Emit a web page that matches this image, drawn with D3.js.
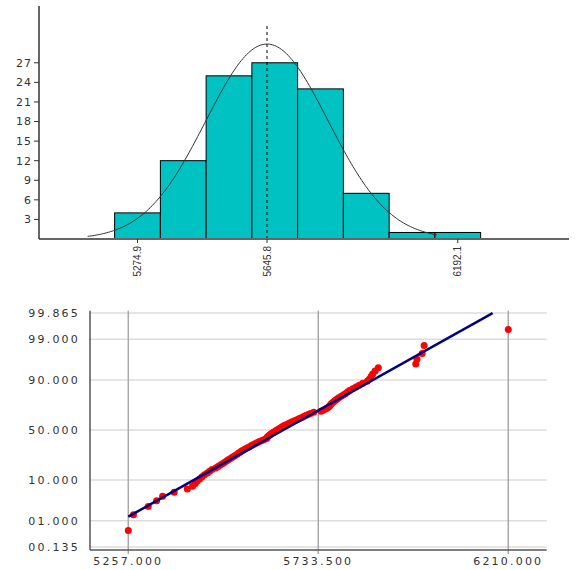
<!DOCTYPE html>
<html>
<head>
<meta charset="utf-8">
<script src="https://cdn.jsdelivr.net/npm/d3@7"></script>
<style>
  body { margin: 0; background: #fff; }
  svg { display: block; }
  text { font-family: "DejaVu Sans", Verdana, sans-serif; fill: #333; }
</style>
</head>
<body>
<svg width="579" height="570"></svg>
<script>
// histogram: counts per bin, bins are centred on firstBinCenter + i*binWidth
var histCounts = [4, 12, 25, 27, 23, 7, 1, 1];
var firstBinCenter = 5274.9;
var binWidth = 131.03;
var histTicks = [5274.9, 5645.8, 6192.1];
var histYTicks = [3, 6, 9, 12, 15, 18, 21, 24, 27];

// fitted normal
var mean = 5645.8;
var sd = 175;
var curveFrom = 5132, curveTo = 6135;

// sorted sample
var sample = [
  5257, 5270, 5307, 5328, 5343, 5372, 5405, 5418, 5425, 5430,
  5436, 5442, 5448, 5455, 5461, 5467, 5476, 5482, 5488, 5494,
  5499, 5504, 5509, 5514, 5519, 5524, 5529, 5533, 5537, 5541,
  5546, 5551, 5556, 5561, 5566, 5571, 5576, 5581, 5586, 5592,
  5598, 5604, 5605, 5607, 5610, 5613, 5616, 5620, 5624, 5628,
  5632, 5636, 5640, 5644, 5648, 5653, 5658, 5663, 5668, 5674,
  5680, 5686, 5692, 5697, 5702, 5708, 5714, 5722, 5740, 5746,
  5752, 5757, 5760, 5763, 5765, 5768, 5772, 5776, 5780, 5784,
  5790, 5796, 5802, 5807, 5812, 5820, 5828, 5836, 5845, 5856,
  5862, 5866, 5870, 5876, 5884, 5978, 5981, 5994, 5999, 6210
];
var probXTicks = [5257, 5733.5, 6210];
var probYTicks = [0.135, 1, 10, 50, 90, 99, 99.865];
var probYLabels = ["00.135", "01.000", "10.000", "50.000", "90.000", "99.000", "99.865"];

var svg = d3.select("svg");

// inverse normal cdf (Acklam)
function qnorm(p) {
  var a = [-39.6968302866538, 220.946098424521, -275.928510446969, 138.357751867269, -30.6647980661472, 2.50662827745924];
  var b = [-54.4760987982241, 161.585836858041, -155.698979859887, 66.8013118877197, -13.2806815528857];
  var c = [-0.00778489400243029, -0.322396458041136, -2.40075827716184, -2.54973253934373, 4.37466414146497, 2.93816398269878];
  var d = [0.00778469570904146, 0.32246712907004, 2.445134137143, 3.75440866190742];
  var q, r;
  if (p < 0.02425) {
    q = Math.sqrt(-2 * Math.log(p));
    return (((((c[0]*q+c[1])*q+c[2])*q+c[3])*q+c[4])*q+c[5]) / ((((d[0]*q+d[1])*q+d[2])*q+d[3])*q+1);
  }
  if (p > 1 - 0.02425) {
    q = Math.sqrt(-2 * Math.log(1 - p));
    return -(((((c[0]*q+c[1])*q+c[2])*q+c[3])*q+c[4])*q+c[5]) / ((((d[0]*q+d[1])*q+d[2])*q+d[3])*q+1);
  }
  q = p - 0.5; r = q * q;
  return (((((a[0]*r+a[1])*r+a[2])*r+a[3])*r+a[4])*r+a[5])*q / (((((b[0]*r+b[1])*r+b[2])*r+b[3])*r+b[4])*r+1);
}

// ---------- histogram ----------
var hx = d3.scaleLinear().domain([4992.8, 6510.7]).range([39, 569]);
var hy = d3.scaleLinear().domain([0, 35.7]).range([239, 6]);
var n = d3.sum(histCounts);

var bins = histCounts.map(function(c, i) {
  var mid = firstBinCenter + i * binWidth;
  return { lo: mid - binWidth / 2, hi: mid + binWidth / 2, count: c };
});

var histG = svg.append("g");

histG.selectAll("rect.bar")
  .data(bins)
  .enter().append("rect")
  .attr("class", "bar")
  .attr("x", function(d) { return hx(d.lo); })
  .attr("y", function(d) { return hy(d.count); })
  .attr("width", function(d) { return hx(d.hi) - hx(d.lo); })
  .attr("height", function(d) { return hy(0) - hy(d.count); })
  .attr("fill", "#00c2c2")
  .attr("stroke", "#000")
  .attr("stroke-width", 1);

// normal curve scaled to counts
var curvePts = d3.range(curveFrom, curveTo + 1, 5).map(function(v) {
  var z = (v - mean) / sd;
  return [v, n * binWidth * Math.exp(-z * z / 2) / (sd * Math.sqrt(2 * Math.PI))];
});
histG.append("path")
  .datum(curvePts)
  .attr("fill", "none")
  .attr("stroke", "#333")
  .attr("stroke-width", 1)
  .attr("d", d3.line().x(function(d) { return hx(d[0]); }).y(function(d) { return hy(d[1]); }));

// mean line
histG.append("line")
  .attr("x1", hx(mean)).attr("x2", hx(mean))
  .attr("y1", 26).attr("y2", hy(0))
  .attr("stroke", "#000")
  .attr("stroke-dasharray", "3 3");

// axes
histG.append("line")
  .attr("x1", 39).attr("x2", 569).attr("y1", hy(0)).attr("y2", hy(0))
  .attr("stroke", "#666").attr("stroke-width", 2);
histG.append("line")
  .attr("x1", 39).attr("x2", 39).attr("y1", 6).attr("y2", hy(0))
  .attr("stroke", "#333").attr("stroke-width", 1.5);

var hyTick = histG.selectAll("g.yt").data(histYTicks).enter().append("g")
  .attr("transform", function(d) { return "translate(0," + hy(d) + ")"; });
hyTick.append("line").attr("x1", 34).attr("x2", 39).attr("stroke", "#333");
hyTick.append("text")
  .attr("x", 32).attr("dy", "0.36em")
  .attr("text-anchor", "end")
  .style("font-size", "11px")
  .style("letter-spacing", "1px")
  .text(function(d) { return d; });

var hxTick = histG.selectAll("g.xt").data(histTicks).enter().append("g")
  .attr("transform", function(d) { return "translate(" + hx(d) + "," + hy(0) + ")"; });
hxTick.append("line").attr("y1", 0).attr("y2", 4).attr("stroke", "#333");
hxTick.append("text")
  .attr("transform", "translate(0,7) rotate(-90)")
  .attr("dy", "0.35em")
  .attr("text-anchor", "end")
  .style("font-family", "'Liberation Sans', Arial, sans-serif")
  .style("font-size", "10px")
  .text(function(d) { return d3.format(".1f")(d); });

// ---------- normal probability plot ----------
var px = d3.scaleLinear().domain([5161, 6306.4]).range([90, 546.7]);
var py = d3.scaleLinear().domain([-3.077, 3.06]).range([550, 310.7]);

var bot = svg.append("g");

bot.selectAll("line.hgrid")
  .data(probYTicks)
  .enter().append("line")
  .attr("class", "hgrid")
  .attr("x1", 90).attr("x2", 546.7)
  .attr("y1", function(d) { return py(qnorm(d / 100)); })
  .attr("y2", function(d) { return py(qnorm(d / 100)); })
  .attr("stroke", "#dcdcdc").attr("stroke-width", 1.5);

bot.selectAll("line.vgrid")
  .data(probXTicks)
  .enter().append("line")
  .attr("class", "vgrid")
  .attr("x1", function(d) { return px(d); }).attr("x2", function(d) { return px(d); })
  .attr("y1", 310.7).attr("y2", 554)
  .attr("stroke", "#a8a8a8").attr("stroke-width", 1.5);

bot.append("line")
  .attr("x1", 90).attr("x2", 90).attr("y1", 310.7).attr("y2", 550)
  .attr("stroke", "#555").attr("stroke-width", 1.5);
bot.append("line")
  .attr("x1", 90).attr("x2", 546.7).attr("y1", 550).attr("y2", 550)
  .attr("stroke", "#555").attr("stroke-width", 1.5);

bot.selectAll("text.ylab")
  .data(probYTicks)
  .enter().append("text")
  .attr("class", "ylab")
  .attr("x", 80)
  .attr("y", function(d) { return py(qnorm(d / 100)); })
  .attr("dy", "0.36em")
  .attr("text-anchor", "end")
  .style("font-size", "11px")
  .style("letter-spacing", "2.2px")
  .text(function(d, i) { return probYLabels[i]; });

bot.selectAll("text.xlab")
  .data(probXTicks)
  .enter().append("text")
  .attr("class", "xlab")
  .attr("x", function(d) { return px(d); })
  .attr("y", 565)
  .attr("text-anchor", "middle")
  .style("font-size", "11px")
  .style("letter-spacing", "2.2px")
  .text(function(d) { return d3.format(".3f")(d); });

// sample points at (i+0.5)/n
var m = sample.length;
bot.selectAll("circle.pt")
  .data(sample)
  .enter().append("circle")
  .attr("class", "pt")
  .attr("cx", function(d) { return px(d); })
  .attr("cy", function(d, i) { return py(qnorm((i + 0.5) / m)); })
  .attr("r", 3.5)
  .attr("fill", "#ff0000");

// fitted line from the sample minimum to the top of the plot
var lineFrom = d3.min(sample);
var lineTo = mean + sd * 3;
bot.append("line")
  .attr("x1", px(lineFrom)).attr("y1", py((lineFrom - mean) / sd))
  .attr("x2", px(lineTo)).attr("y2", py((lineTo - mean) / sd))
  .attr("stroke", "#000080")
  .attr("stroke-width", 2.5);
</script>
</body>
</html>
